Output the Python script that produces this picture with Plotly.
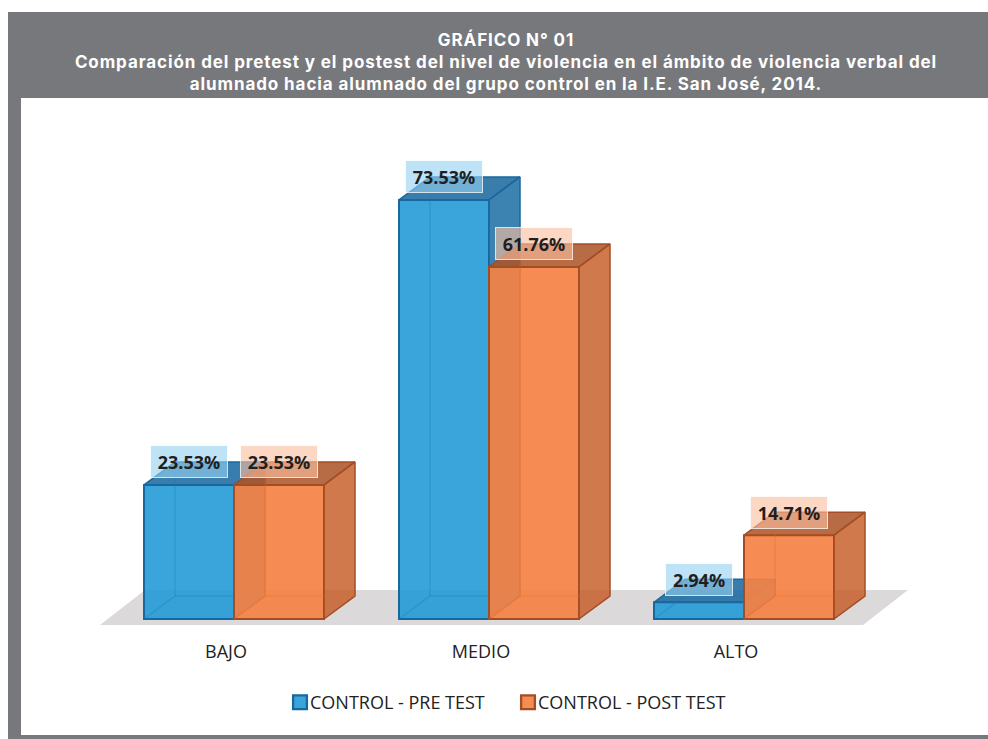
import plotly.graph_objects as go

categories = ["BAJO", "MEDIO", "ALTO"]
pre_test = [23.53, 73.53, 2.94]
post_test = [23.53, 61.76, 14.71]
series_names = ["CONTROL - PRE TEST", "CONTROL - POST TEST"]
title_lines = [
    "GRÁFICO N° 01",
    "Comparación del pretest y el postest del nivel de violencia en el ámbito de violencia verbal del",
    "alumnado hacia alumnado del grupo control en la I.E. San José, 2014.",
]

W, H = 988, 739
PLOT_TOP, PLOT_BOTTOM = 100, 639
BASE_PX, PX_PER_PCT = 619, 5.70
CAT0_PX, PX_PER_CAT = 234, 255
BAR_W = 90 / PX_PER_CAT
DX = 31 / PX_PER_CAT
DY = 23 / PX_PER_PCT
GRAY = "#77787b"
xrange_ = [-CAT0_PX / PX_PER_CAT, (W - CAT0_PX) / PX_PER_CAT]
yrange_ = [(BASE_PX - PLOT_BOTTOM) / PX_PER_PCT, (BASE_PX - PLOT_TOP) / PX_PER_PCT]
idx = list(range(len(categories)))


def faces(values, side):
    """Top face, right face and hidden back edges of each 3D bar."""
    top_x, top_y, right_x, right_y, back_x, back_y = [], [], [], [], [], []
    for i, v in zip(idx, values):
        x0 = i - BAR_W if side == 0 else i
        x1 = x0 + BAR_W
        top_x += [x0, x1, x1 + DX, x0 + DX, x0, None]
        top_y += [v, v, v + DY, v + DY, v, None]
        right_x += [x1, x1 + DX, x1 + DX, x1, x1, None]
        right_y += [0, DY, v + DY, v, 0, None]
        back_x += [x0, x0 + DX, x1 + DX, None, x0 + DX, x0 + DX, None]
        back_y += [0, DY, DY, None, DY, v + DY, None]
    return top_x, top_y, right_x, right_y, back_x, back_y


fig = go.Figure()
styles = [
    dict(front="rgba(30,152,214,0.88)", edge="#17689f", top="rgba(24,104,158,0.86)",
         side="rgba(40,118,168,0.90)", back="rgba(20,120,185,0.30)"),
    dict(front="rgba(245,130,68,0.92)", edge="#a24d25", top="rgba(172,84,40,0.86)",
         side="rgba(196,92,38,0.82)", back="rgba(235,100,30,0.28)"),
]
for s, (name, values, st) in enumerate(zip(series_names, (pre_test, post_test), styles)):
    xa, ya = ("x", "y") if s == 0 else ("x2", "y2")
    fig.add_trace(go.Bar(
        x=idx, y=values, name=name, width=BAR_W, offset=-BAR_W if s == 0 else 0,
        marker=dict(color=st["front"], line=dict(color=st["edge"], width=2)),
        xaxis=xa, yaxis=ya, hoverinfo="skip",
    ))
    tx, ty, rx, ry, bx, by = faces(values, s)
    for fx, fy, col in ((tx, ty, st["top"]), (rx, ry, st["side"])):
        fig.add_trace(go.Scatter(
            x=fx, y=fy, mode="lines", fill="toself", fillcolor=col,
            line=dict(color=st["edge"], width=1.5), showlegend=False,
            xaxis=xa, yaxis=ya, hoverinfo="skip",
        ))
    fig.add_trace(go.Scatter(
        x=bx, y=by, mode="lines", line=dict(color=st["back"], width=1.5),
        showlegend=False, xaxis=xa, yaxis=ya, hoverinfo="skip",
    ))

# value labels
annotations = []
bg = ["rgba(150,208,240,0.62)", "rgba(250,190,160,0.62)"]
for s, values in enumerate((pre_test, post_test)):
    for i, v in zip(idx, values):
        txt = f"{v:.2f}%"
        annotations.append(dict(
            x=i + (-BAR_W / 2 if s == 0 else BAR_W / 2), y=v + 23 / PX_PER_PCT,
            xref="x", yref="y", text=f"<b>{txt}</b>", showarrow=False,
            font=dict(family="Open Sans", size=18, color="#1f1f1f"),
            bgcolor=bg[s], bordercolor="rgba(255,255,255,0.75)", borderwidth=1,
            width=76 if v >= 10 else 66, height=31, borderpad=0,
            xanchor="center", yanchor="middle", align="center", valign="middle",
        ))

shapes = [
    dict(type="path", xref="x", yref="y", layer="below",
         path=f"M {(100-CAT0_PX)/PX_PER_CAT} {(BASE_PX-625)/PX_PER_PCT} "
              f"L {(863-CAT0_PX)/PX_PER_CAT} {(BASE_PX-625)/PX_PER_PCT} "
              f"L {(908-CAT0_PX)/PX_PER_CAT} {(BASE_PX-590)/PX_PER_PCT} "
              f"L {(145-CAT0_PX)/PX_PER_CAT} {(BASE_PX-590)/PX_PER_PCT} Z",
         fillcolor="#dbd9da", line=dict(width=0)),
]


def rect(x0, ytop, x1, ybot):
    span = PLOT_BOTTOM - PLOT_TOP
    return dict(type="rect", xref="paper", yref="paper", layer="below",
                x0=x0 / W, x1=x1 / W,
                y0=(PLOT_BOTTOM - ybot) / span, y1=(PLOT_BOTTOM - ytop) / span,
                fillcolor=GRAY, line=dict(width=0))


shapes += [rect(8, 12, 988, 98), rect(8, 98, 21, 739), rect(8, 735, 988, 739)]

axis_common = dict(showgrid=False, zeroline=False, showline=False)
fig.update_layout(
    width=W, height=H, autosize=False,
    margin=dict(l=0, r=0, t=PLOT_TOP, b=H - PLOT_BOTTOM, pad=0),
    paper_bgcolor="white", plot_bgcolor="rgba(0,0,0,0)",
    barmode="overlay",
    title=dict(
        text="<b>" + "<br>".join(title_lines) + "</b>",
        x=506 / W, xanchor="center", xref="paper", y=1 - 46 / H, yanchor="middle", yref="container",
        font=dict(family="Inter", size=17, color="white"),
    ),
    xaxis=dict(range=xrange_, tickvals=[i - 8 / PX_PER_CAT for i in idx], ticktext=categories,
               ticks="", ticklen=0,
               tickfont=dict(family="Open Sans", size=18, color="#222222"), **axis_common),
    yaxis=dict(range=yrange_, showticklabels=False, ticks="", **axis_common),
    xaxis2=dict(range=xrange_, overlaying="x", visible=False, **axis_common),
    yaxis2=dict(range=yrange_, overlaying="y", visible=False, **axis_common),
    legend=dict(orientation="h", x=270 / W, xanchor="left", y=-0.0835, yanchor="top",
                entrywidth=183, entrywidthmode="pixels",
                font=dict(family="Open Sans", size=18, color="#222222"),
                itemclick=False, itemdoubleclick=False, bgcolor="rgba(0,0,0,0)"),
    shapes=shapes, annotations=annotations,
)
post = """
document.body.style.margin='0';document.body.style.overflow='hidden';
document.querySelectorAll('.legend .legendpoints').forEach(function(g){g.setAttribute('transform','translate(7,0) scale(1.15)');});
var t=document.querySelector('.gtitle');if(t){t.style.letterSpacing='0.9px';}
"""
fig.write_html("out.html", post_script=post, config={"displayModeBar": False})
